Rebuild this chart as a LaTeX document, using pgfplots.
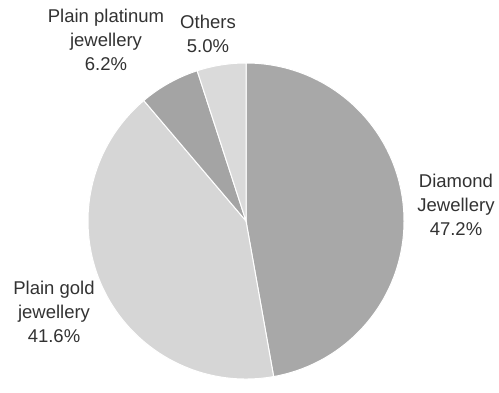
\documentclass[border=0pt]{standalone}
\usepackage{pgfplots}
\pgfplotsset{compat=1.18}
\usepackage{fontspec}
\setmainfont{Liberation Sans}
\definecolor{cDiamond}{RGB}{168,168,168}
\definecolor{cGold}{RGB}{214,214,214}
\definecolor{cPlat}{RGB}{164,164,164}
\definecolor{cOther}{RGB}{218,218,218}
\definecolor{txt}{RGB}{50,50,50}
\begin{document}
\begin{tikzpicture}
\begin{axis}[
  scale only axis, width=499bp, height=381bp,
  xmin=0, xmax=499, ymin=0, ymax=381,
  axis lines=none, ticks=none, clip=false,
]
\path (rel axis cs:0,0) rectangle (rel axis cs:1,1);
\pgfplotsextra{
  \gdef\startang{90}
  \foreach \v/\c in {47.2/cDiamond, 41.6/cGold, 6.2/cPlat, 5.0/cOther}{
    \pgfmathsetmacro\endang{\startang-3.6*\v}
    \fill[\c, draw=white, line width=1bp] (axis cs:246,160) -- ++(\startang:158bp)
      arc[start angle=\startang, end angle=\endang, radius=158bp] -- cycle;
    \xdef\startang{\endang}
  }
}
\begin{scope}[every node/.style={font=\fontsize{18.5bp}{24bp}\selectfont, text=txt, align=center, inner sep=0pt}]
\node at (axis cs:456,176) {Diamond\\Jewellery\\47.2\%};
\node at (axis cs:54,69) {Plain gold\\jewellery\\41.6\%};
\node at (axis cs:106,341) {Plain platinum\\jewellery\\6.2\%};
\node at (axis cs:208,347.5) {Others\\5.0\%};
\end{scope}
\end{axis}
\end{tikzpicture}
\end{document}
